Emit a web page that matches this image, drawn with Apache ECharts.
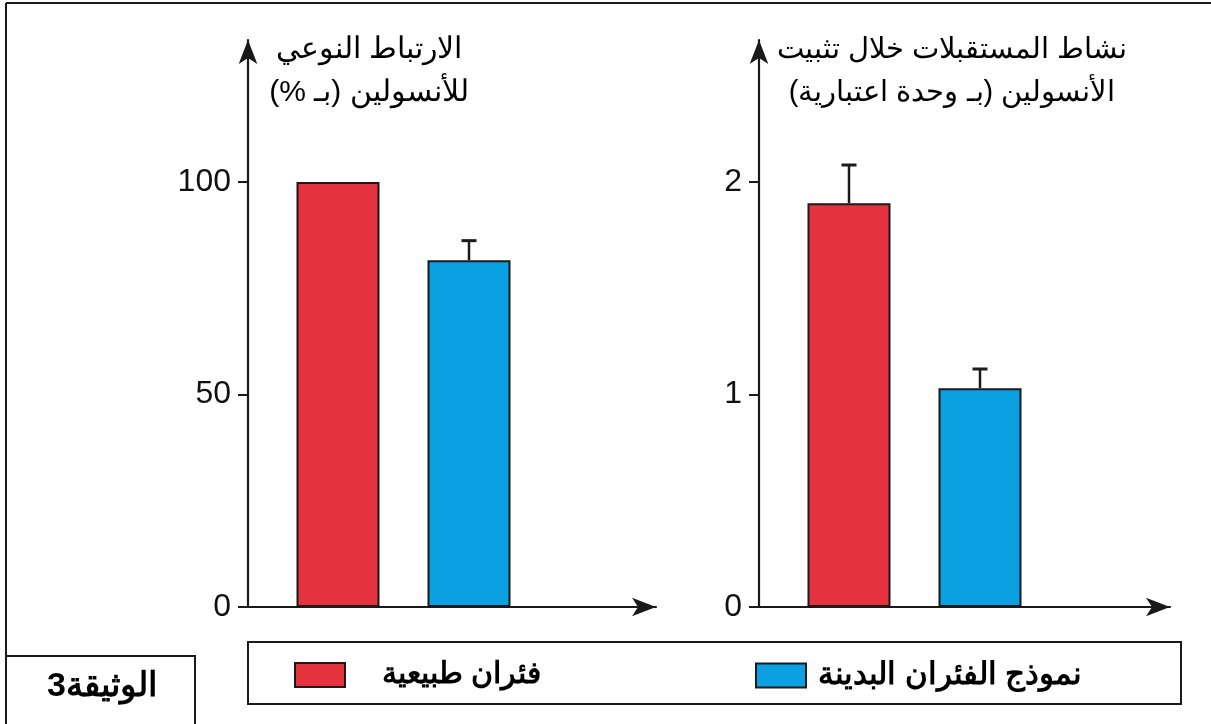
<!DOCTYPE html>
<html>
<head>
<meta charset="utf-8">
<script src="https://cdn.jsdelivr.net/npm/echarts@6/dist/echarts.min.js"></script>
<style>
html,body{margin:0;padding:0;background:#fff;}
#c{width:1211px;height:724px;direction:rtl;}
</style>
</head>
<body>
<div id="c"></div>
<script>
const categories = ['فئران طبيعية', 'نموذج الفئران البدينة'];
const bindingValues = [100, 81.6];
const bindingErrorTops = [null, 86.2];
const activityValues = [1.90, 1.03];
const activityErrorTops = [2.08, 1.12];
const bindingTicks = [0, 50, 100];
const activityTicks = [0, 1, 2];
const yTitles = ['الارتباط النوعي\nللأنسولين (بـ %)', 'نشاط المستقبلات خلال تثبيت\nالأنسولين (بـ وحدة اعتبارية)'];
const docLabel = 'الوثيقة3';

const RED = '#E5323F', BLUE = '#0AA0E2', INK = '#1a1a1a';

function pos(i) { return i + 1; }

function barSeries(gi, ci, values, color) {
  return {
    type: 'bar', name: categories[ci], xAxisIndex: gi, yAxisIndex: gi,
    barWidth: 83, barGap: '-100%',
    itemStyle: { color: color, borderColor: INK, borderWidth: 2 },
    data: [[pos(ci), values[ci]]],
    z: 2
  };
}
function errSeries(gi, values, tops) {
  const d = [];
  values.forEach((v, i) => { if (tops[i] != null) d.push([pos(i), v, tops[i]]); });
  return {
    type: 'custom', xAxisIndex: gi, yAxisIndex: gi, z: 3,
    encode: { x: 0, y: 1 },
    renderItem: function (params, api) {
      const x = api.value(0), v = api.value(1), e = api.value(2);
      const p0 = api.coord([x, v]), p1 = api.coord([x, e]);
      return { type: 'group', children: [
        { type: 'line', shape: { x1: p0[0], y1: p0[1], x2: p1[0], y2: p1[1] }, style: { stroke: INK, lineWidth: 2.5 } },
        { type: 'line', shape: { x1: p1[0] - 7.5, y1: p1[1], x2: p1[0] + 7.5, y2: p1[1] }, style: { stroke: INK, lineWidth: 3 } }
      ]};
    },
    data: d
  };
}
function xAxis(gi, max) {
  return {
    type: 'value', gridIndex: gi, min: 0.313, max: max,
    axisLine: { show: true, onZero: false, symbol: ['none', 'arrow'], symbolSize: [14, 24], lineStyle: { color: INK, width: 2.2 } },
    axisTick: { show: false }, axisLabel: { show: false }, splitLine: { show: false }
  };
}
function yAxis(gi, max, ticks) {
  return {
    type: 'value', gridIndex: gi, min: 0, max: max,
    axisLine: { show: true, onZero: false, symbol: ['none', 'arrow'], symbolSize: [14, 24], lineStyle: { color: INK, width: 2.2 } },
    axisTick: { show: true, length: 10, customValues: ticks, lineStyle: { color: INK, width: 2 } },
    axisLabel: { customValues: ticks, fontSize: 32, fontFamily: 'Liberation Sans', color: '#111', margin: 17 },
    splitLine: { show: false }
  };
}

const chart = echarts.init(document.getElementById('c'));
chart.setOption({
  animation: false,
  backgroundColor: '#fff',
  grid: [
    { left: 248, top: 40, width: 408, height: 567 },
    { left: 759, top: 40, width: 411, height: 567 }
  ],
  xAxis: [xAxis(0, 0.313 + 408 / 131), xAxis(1, 0.313 + 411 / 131)],
  yAxis: [yAxis(0, 567 / 4.25, bindingTicks), yAxis(1, 567 / 212.5, activityTicks)],
  legend: [
    { data: [categories[0]], left: 289, top: 655, itemWidth: 50, itemHeight: 24, icon: 'rect',
      itemStyle: { borderColor: INK, borderWidth: 2 },
      textStyle: { fontSize: 30, fontWeight: 'bold', color: '#000', padding: [0, 0, 0, 32] } },
    { data: [categories[1]], left: 750, top: 655, itemWidth: 50, itemHeight: 24, icon: 'rect',
      itemStyle: { borderColor: INK, borderWidth: 2 },
      textStyle: { fontSize: 31, fontWeight: 'bold', color: '#000', padding: [0, 0, 0, 7] } }
  ],
  graphic: [
    { type: 'line', shape: { x1: 6, y1: 3, x2: 1211, y2: 3 }, style: { stroke: INK, lineWidth: 2 } },
    { type: 'line', shape: { x1: 6, y1: 3, x2: 6, y2: 724 }, style: { stroke: INK, lineWidth: 2 } },
    { type: 'rect', shape: { x: 6, y: 656, width: 189, height: 80 }, style: { fill: '#fff', stroke: INK, lineWidth: 2 } },
    { type: 'rect', shape: { x: 248, y: 642, width: 933, height: 62 }, style: { fill: 'none', stroke: INK, lineWidth: 2 }, z: -1 },
    { type: 'text', x: 102, y: 687, style: { text: docLabel, textAlign: 'center', textVerticalAlign: 'middle', fontSize: 34, fontWeight: 'bold', fill: '#000' } },
    { type: 'text', x: 369, y: 28, style: { text: yTitles[0], textAlign: 'center', textVerticalAlign: 'top', fontSize: 30, lineHeight: 43, fill: '#000' } },
    { type: 'text', x: 952, y: 28, style: { text: yTitles[1], textAlign: 'center', textVerticalAlign: 'top', fontSize: 29, lineHeight: 43, fill: '#000' } }
  ],
  series: [
    barSeries(0, 0, bindingValues, RED),
    barSeries(0, 1, bindingValues, BLUE),
    errSeries(0, bindingValues, bindingErrorTops),
    barSeries(1, 0, activityValues, RED),
    barSeries(1, 1, activityValues, BLUE),
    errSeries(1, activityValues, activityErrorTops)
  ]
});
</script>
</body>
</html>
